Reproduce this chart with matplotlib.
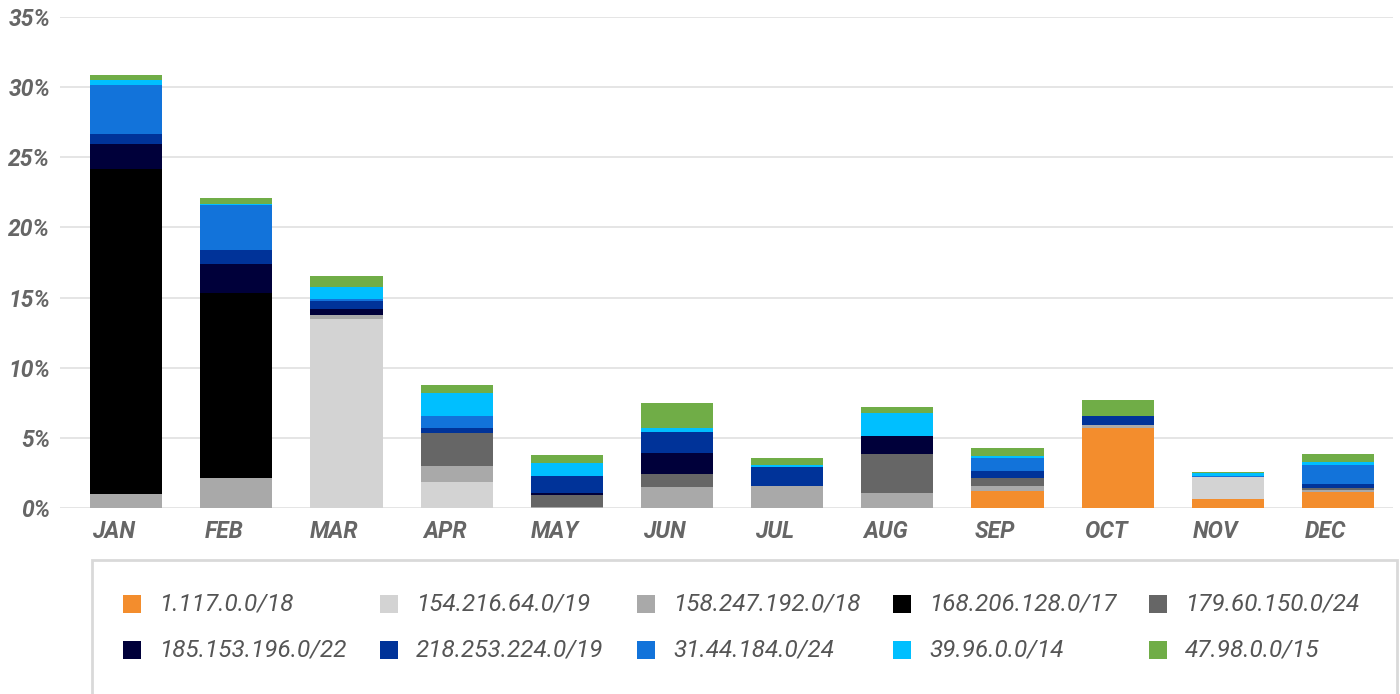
import matplotlib
matplotlib.use('Agg')
from matplotlib import pyplot as plt
from matplotlib.patches import Rectangle
import numpy as np

plt.rcParams['font.family'] = ['Roboto', 'DejaVu Sans']

months = ['JAN', 'FEB', 'MAR', 'APR', 'MAY', 'JUN', 'JUL', 'AUG', 'SEP', 'OCT', 'NOV', 'DEC']

# share of traffic per month (%), one list per network, bottom to top
net_1_117 = [0, 0, 0, 0, 0, 0, 0, 0, 1.21, 5.7, 0.64, 1.14]
net_154_216 = [0, 0, 13.47, 1.85, 0, 0, 0, 0, 0, 0, 1.57, 0]
net_158_247 = [1.0, 2.14, 0.29, 1.14, 0.1, 1.5, 1.57, 1.07, 0.36, 0.22, 0, 0.14]
net_168_206 = [23.16, 13.18, 0, 0, 0, 0, 0, 0, 0, 0, 0, 0]
net_179_60 = [0, 0, 0, 2.36, 0.85, 0.92, 0, 2.78, 0.57, 0, 0, 0.15]
net_185_153 = [1.78, 2.07, 0.42, 0, 0.1, 1.5, 0, 1.28, 0, 0, 0, 0]
net_218_253 = [0.72, 1.0, 0.6, 0.35, 1.26, 1.5, 1.35, 0, 0.5, 0.64, 0, 0.28]
net_31_44 = [3.49, 3.21, 0.09, 0.86, 0, 0, 0, 0, 0.92, 0, 0.09, 1.35]
net_39_96 = [0.35, 0.05, 0.88, 1.61, 0.9, 0.3, 0.14, 1.64, 0.14, 0, 0.17, 0.22]
net_47_98 = [0.36, 0.42, 0.79, 0.6, 0.6, 1.76, 0.5, 0.43, 0.58, 1.14, 0.1, 0.57]

labels = ['1.117.0.0/18', '154.216.64.0/19', '158.247.192.0/18', '168.206.128.0/17',
          '179.60.150.0/24', '185.153.196.0/22', '218.253.224.0/19', '31.44.184.0/24',
          '39.96.0.0/14', '47.98.0.0/15']
series = [net_1_117, net_154_216, net_158_247, net_168_206, net_179_60,
          net_185_153, net_218_253, net_31_44, net_39_96, net_47_98]
colors = ['#F38D2D', '#D3D3D3', '#A9A9A9', '#000000', '#666666',
          '#00003A', '#003399', '#1273DA', '#00BFFF', '#70AD47']

W, H = 1400, 694
fig = plt.figure(figsize=(W / 100, H / 100), dpi=100)
ax = fig.add_axes([60 / W, 1 - 508 / H, (1393 - 60) / W, (508 - 17) / H])

x = np.arange(len(months))
bottom = np.zeros(len(months))
for vals, col, lab in zip(series, colors, labels):
    ax.bar(x, vals, width=0.655, bottom=bottom, color=col, label=lab, zorder=3, linewidth=0)
    bottom += np.array(vals)

ax.set_xlim(-0.6, 11.5)
ax.set_ylim(0, 35)
ax.set_yticks(range(0, 36, 5))
ax.set_yticklabels(['{}%'.format(v) for v in range(0, 36, 5)])
# month labels sit a little left of the bar centres in the reference
ax.set_xticks(x - 0.11)
ax.set_xticklabels(months)
for lbl in ax.get_xticklabels() + ax.get_yticklabels():
    lbl.set_fontstyle('italic')
    lbl.set_fontweight('bold')
    lbl.set_fontsize(16.5)
    lbl.set_color('#666666')
ax.tick_params(axis='y', length=0, pad=7)
ax.tick_params(axis='x', length=0, pad=9)
ax.grid(axis='y', color='#e0e0e0', linewidth=1.2, zorder=0)
ax.grid(axis='x', visible=False)
for s in ax.spines.values():
    s.set_visible(False)

# legend box, drawn by hand to follow the reference layout
fig.patches.append(Rectangle((92 / W, -0.05), (1397 - 92) / W, 1 - 560 / H + 0.05,
                             transform=fig.transFigure, fill=False,
                             edgecolor='#d9d9d9', linewidth=2))
col_x = [123, 380, 637, 893, 1149]
row_y = [604, 650]
sq = 18
for i, (lab, col) in enumerate(zip(labels, colors)):
    cx = col_x[i % 5]
    cy = row_y[i // 5]
    fig.patches.append(Rectangle((cx / W, 1 - (cy + sq / 2) / H), sq / W, sq / H,
                                 transform=fig.transFigure, facecolor=col,
                                 edgecolor='none'))
    fig.text((cx + 36) / W, 1 - cy / H, lab, fontsize=17.5, fontstyle='italic',
             color='#555555', va='center', ha='left')

plt.savefig('out.png', dpi=100)
